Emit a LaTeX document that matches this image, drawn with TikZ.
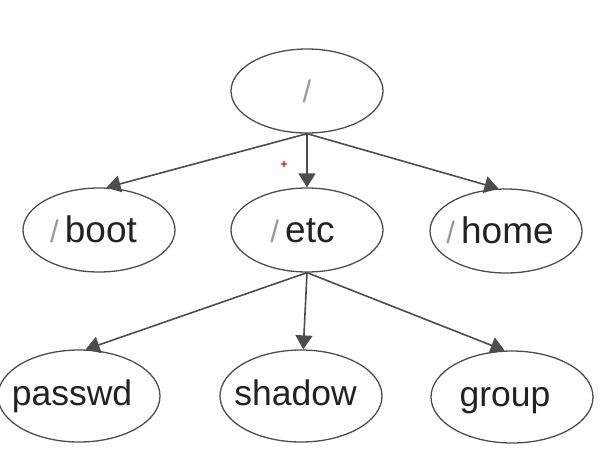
\documentclass[tikz,border=0pt]{standalone}
\usepackage{fontspec}
\setmainfont{Liberation Sans}
\usetikzlibrary{shapes.geometric,arrows.meta}
\definecolor{linegray}{HTML}{4D4D4D}
\definecolor{textdark}{HTML}{222222}
\definecolor{slashgray}{HTML}{9A9A9A}
\newcommand{\dirslash}{{\color{slashgray}\fontsize{31}{34}\selectfont/}\,}
\newcommand{\shiftleft}[2]{\makebox[0pt]{#2\hspace*{#1}}}
\begin{document}
\begin{tikzpicture}[x=1pt,y=-1pt,
  dirnode/.style={ellipse,draw=linegray,line width=1.3pt,inner sep=0pt,text=textdark,
    minimum width=152pt,minimum height=84pt},
  leafnode/.style={ellipse,draw=linegray,line width=1.3pt,inner sep=0pt,text=textdark,
    minimum width=162pt,minimum height=92pt,font=\fontsize{35.5}{40}\selectfont,
    text height=28pt,text depth=10pt},
  midfont/.style={font=\fontsize{37}{42}\selectfont,text height=30pt,text depth=6pt},
  link/.style={draw=linegray,line width=1.6pt,-{Triangle[length=14pt,width=17pt]}}]
\useasboundingbox (0,0) rectangle (609,467);
\node[dirnode] (root) at (307,91) {{\color{slashgray}\fontsize{31}{34}\selectfont/}};
\node[dirnode,midfont] (boot) at (99,230) {\shiftleft{11pt}{\dirslash boot}};
\node[dirnode,midfont] (etc) at (307,230) {\shiftleft{9pt}{\dirslash etc}};
\node[dirnode,midfont] (home) at (506,231) {\shiftleft{12pt}{\dirslash home}};
\node[leafnode] (passwd) at (79,396) {\shiftleft{14pt}{passwd}};
\node[leafnode] (shadow) at (301,396) {\shiftleft{11pt}{shadow}};
\node[leafnode] (group) at (512,397) {\shiftleft{14pt}{group}};
\coordinate (rb) at (root.south);
\coordinate (eb) at (etc.south);
\draw[link] (rb) -- (boot.80);
\draw[link] (rb) -- (etc);
\draw[link] (rb) -- (home.100);
\draw[link] (eb) -- (passwd.82);
\draw[link] (eb) -- (shadow);
\draw[link] (eb) -- (group.99);
\node[text=red,font=\fontsize{12}{12}\selectfont\bfseries,inner sep=0pt] (plus) at (284,165) {+};
\end{tikzpicture}
\end{document}
